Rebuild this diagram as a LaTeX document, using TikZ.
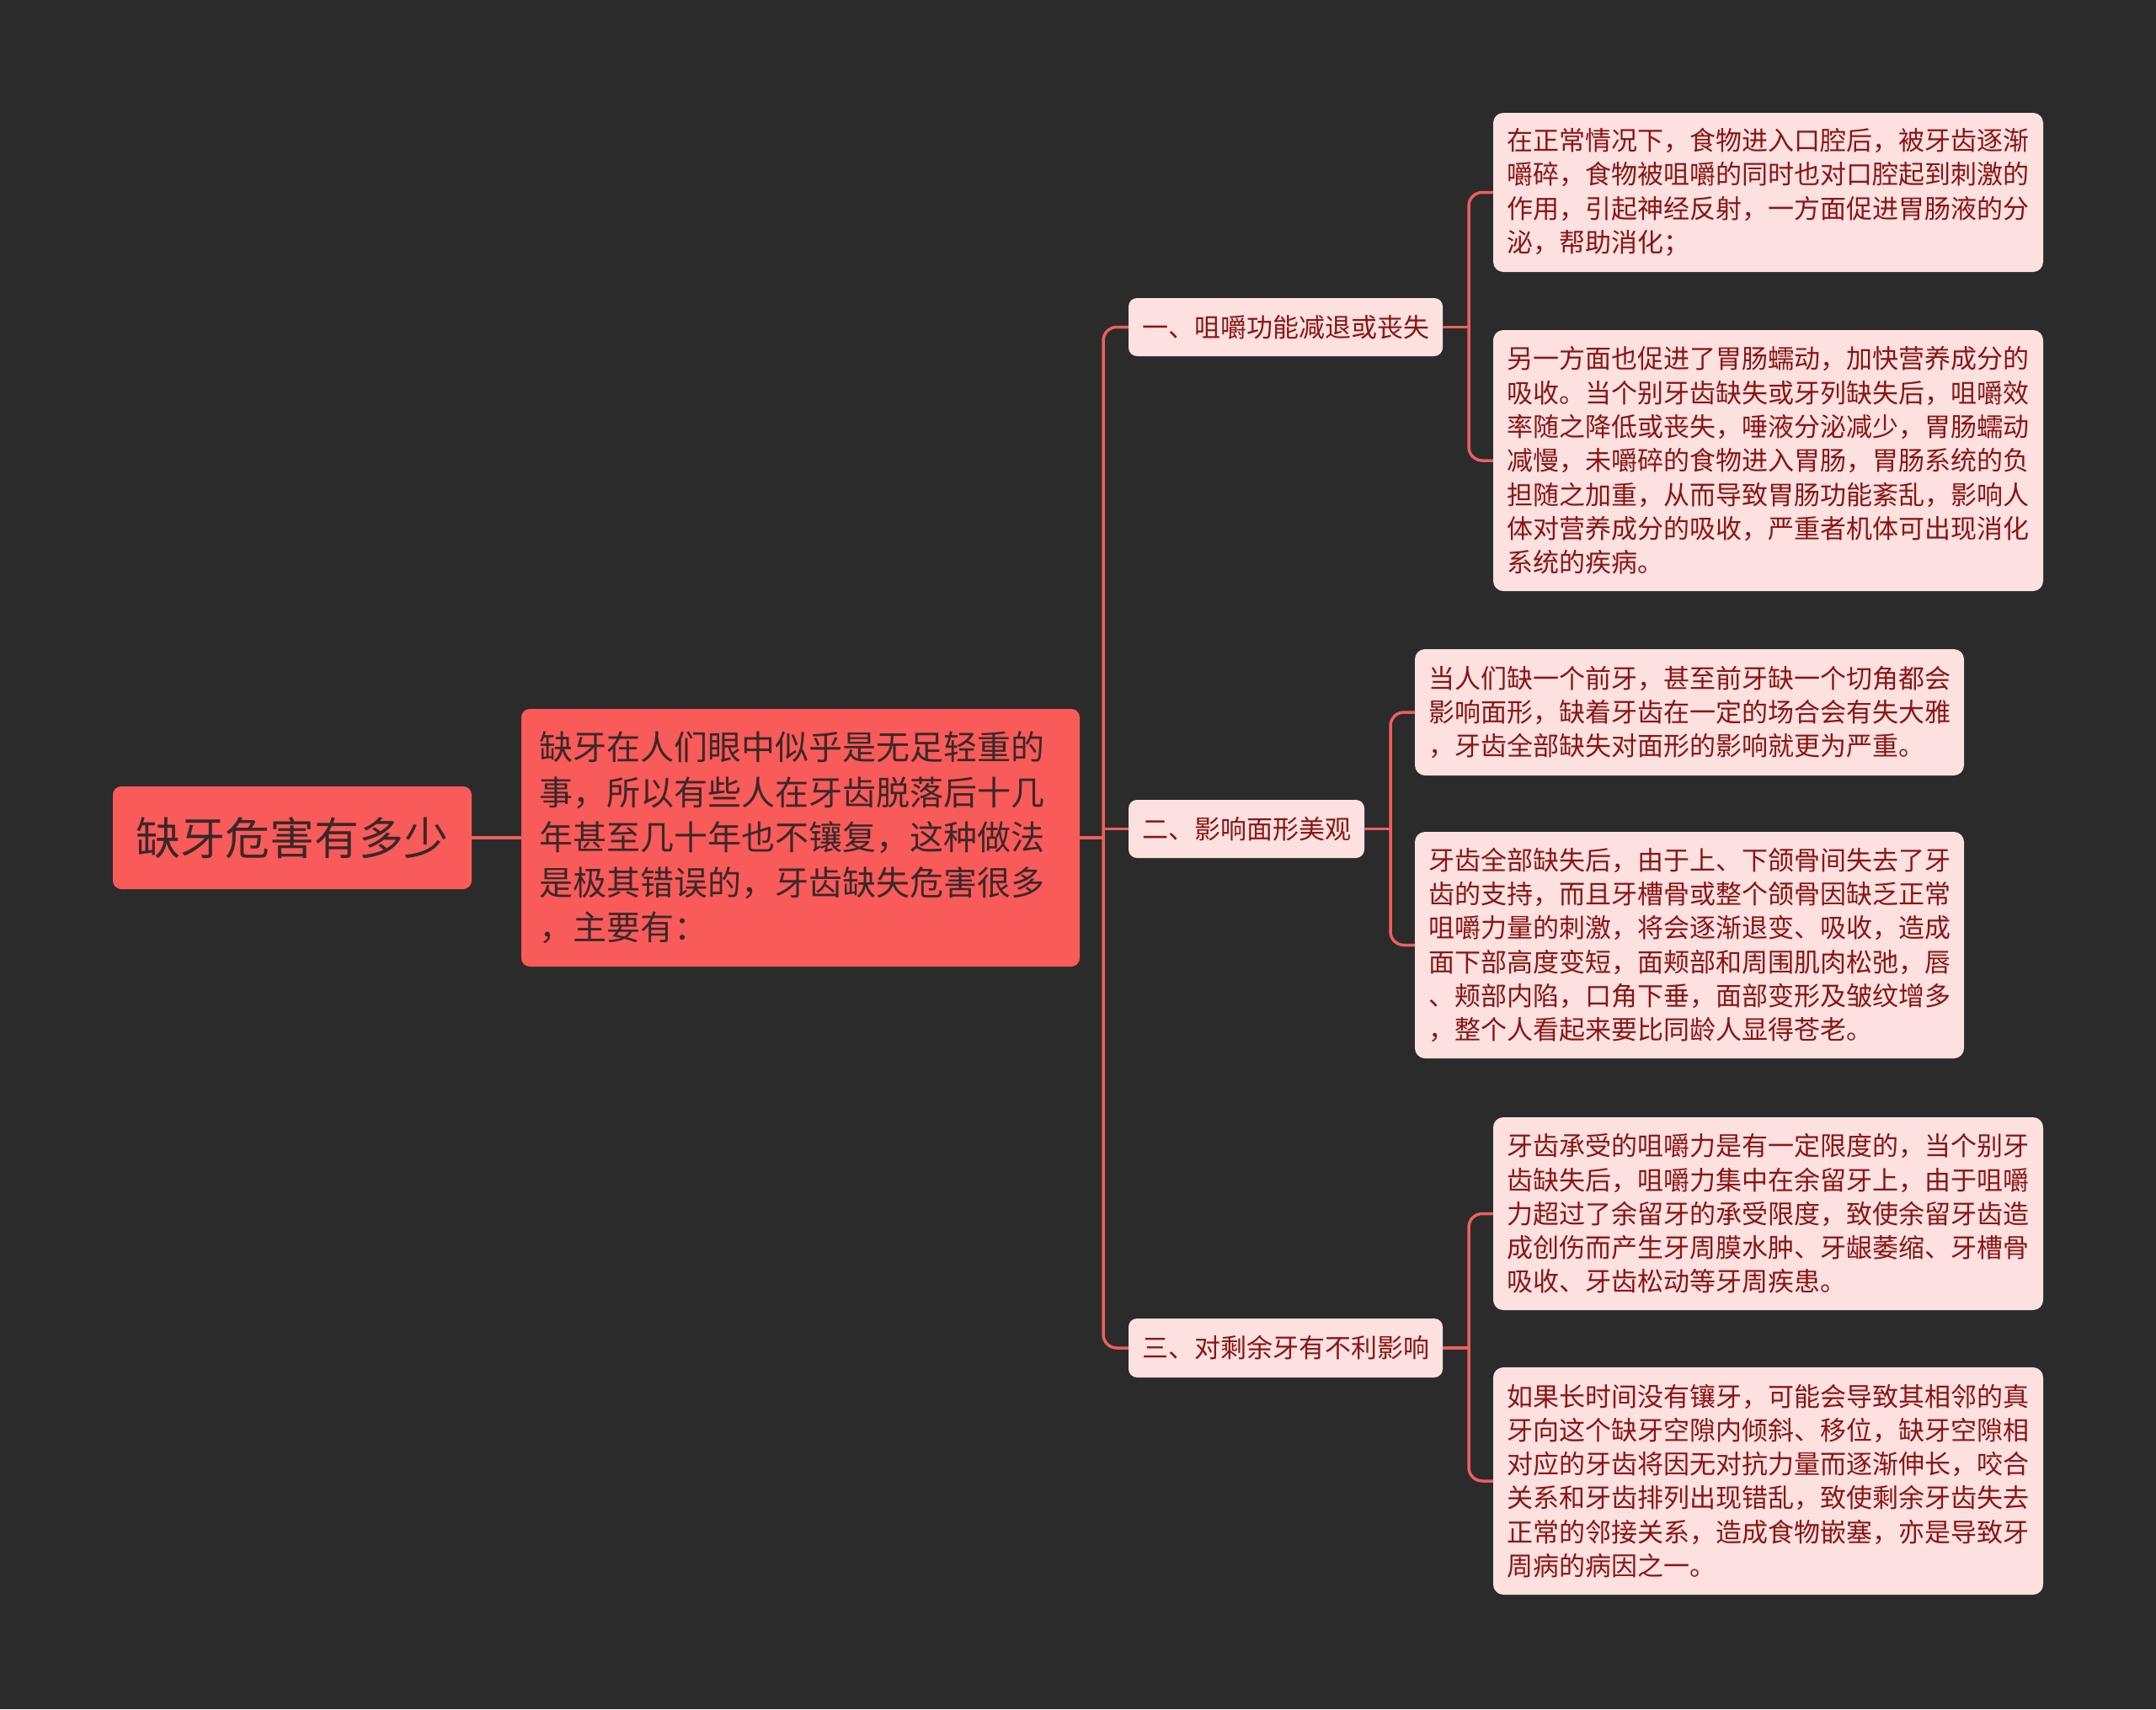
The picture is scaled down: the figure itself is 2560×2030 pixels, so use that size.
\documentclass[tikz,border=0pt]{standalone}
\usepackage{fontspec}
\newfontfamily\cjk{Noto Sans CJK SC}
\definecolor{bgc}{HTML}{2B2B2B}
\definecolor{rootfill}{HTML}{F95A5A}
\definecolor{roottext}{HTML}{3A2828}
\definecolor{leaffill}{HTML}{FDE1E1}
\definecolor{leaftext}{HTML}{8B1515}
\definecolor{linec}{HTML}{EE5E5E}
\tikzset{
  rootbox/.style={rounded corners=10, fill=rootfill, text=roottext, align=center, inner sep=0pt,
    font=\cjk\fontsize{53}{60}\selectfont},
  mainbox/.style={rounded corners=10, fill=rootfill, text=roottext, align=left, inner sep=0pt,
    font=\cjk\fontsize{40}{53.4}\selectfont},
  branchbox/.style={rounded corners=10, fill=leaffill, text=leaftext, align=center, inner sep=0pt,
    font=\cjk\fontsize{31}{38}\selectfont},
  leafbox/.style={rounded corners=12, fill=leaffill, text=leaftext, align=left, inner sep=0pt,
    font=\cjk\fontsize{31}{40.3}\selectfont},
  conn/.style={draw=linec, line width=3.5},
}
\begin{document}
\begin{tikzpicture}[x=1pt,y=-1pt]
\fill[bgc] (0,0) rectangle (2560,2030);
\useasboundingbox (0,0) rectangle (2560,2030);

% nodes
\node[rootbox, minimum width=426, minimum height=122] (root) at (347,995) {缺牙危害有多少};
\node[mainbox, minimum width=663, minimum height=306, text width=620] (main) at (950.5,995)
  {缺牙在人们眼中似乎是无足轻重的\\事，所以有些人在牙齿脱落后十几\\年甚至几十年也不镶复，这种做法\\是极其错误的，牙齿缺失危害很多\\，主要有：};

\node[branchbox, minimum width=373, minimum height=69] (b1) at (1526.5,388.5) {一、咀嚼功能减退或丧失};
\node[branchbox, minimum width=280, minimum height=69] (b2) at (1480,984.5) {二、影响面形美观};
\node[branchbox, minimum width=373, minimum height=70] (b3) at (1526.5,1601) {三、对剩余牙有不利影响};

\node[leafbox, minimum width=653, minimum height=189, text width=621] (l1a) at (2099.5,228.5)
  {在正常情况下，食物进入口腔后，被牙齿逐渐\\嚼碎，食物被咀嚼的同时也对口腔起到刺激的\\作用，引起神经反射，一方面促进胃肠液的分\\泌，帮助消化；};
\node[leafbox, minimum width=653, minimum height=310, text width=621] (l1b) at (2099.5,547)
  {另一方面也促进了胃肠蠕动，加快营养成分的\\吸收。当个别牙齿缺失或牙列缺失后，咀嚼效\\率随之降低或丧失，唾液分泌减少，胃肠蠕动\\减慢，未嚼碎的食物进入胃肠，胃肠系统的负\\担随之加重，从而导致胃肠功能紊乱，影响人\\体对营养成分的吸收，严重者机体可出现消化\\系统的疾病。};
\node[leafbox, minimum width=652, minimum height=150, text width=620] (l2a) at (2006,846)
  {当人们缺一个前牙，甚至前牙缺一个切角都会\\影响面形，缺着牙齿在一定的场合会有失大雅\\，牙齿全部缺失对面形的影响就更为严重。};
\node[leafbox, minimum width=652, minimum height=269, text width=620] (l2b) at (2006,1122.5)
  {牙齿全部缺失后，由于上、下颌骨间失去了牙\\齿的支持，而且牙槽骨或整个颌骨因缺乏正常\\咀嚼力量的刺激，将会逐渐退变、吸收，造成\\面下部高度变短，面颊部和周围肌肉松弛，唇\\、颊部内陷，口角下垂，面部变形及皱纹增多\\，整个人看起来要比同龄人显得苍老。};
\node[leafbox, minimum width=653, minimum height=229, text width=621] (l3a) at (2099.5,1441.5)
  {牙齿承受的咀嚼力是有一定限度的，当个别牙\\齿缺失后，咀嚼力集中在余留牙上，由于咀嚼\\力超过了余留牙的承受限度，致使余留牙齿造\\成创伤而产生牙周膜水肿、牙龈萎缩、牙槽骨\\吸收、牙齿松动等牙周疾患。};
\node[leafbox, minimum width=653, minimum height=270, text width=621] (l3b) at (2099.5,1759)
  {如果长时间没有镶牙，可能会导致其相邻的真\\牙向这个缺牙空隙内倾斜、移位，缺牙空隙相\\对应的牙齿将因无对抗力量而逐渐伸长，咬合\\关系和牙齿排列出现错乱，致使剩余牙齿失去\\正常的邻接关系，造成食物嵌塞，亦是导致牙\\周病的病因之一。};

% junction coordinates
\coordinate (t0) at (1310,995);
\coordinate (t1) at (1744,388.5);
\coordinate (t2) at (1651,984.5);
\coordinate (t3) at (1744,1601);

% connectors
\draw[conn] (root.east) -- (main.west);
\draw[conn] (main.east) -- (t0);
\draw[conn, rounded corners=16] (b1.west) -| (t0) |- (b3.west);
\draw[conn] (t0 |- b2.west) -- (b2.west);

\draw[conn] (b1.east) -- (t1);
\draw[conn, rounded corners=16] (l1a.west) -| (t1) |- (l1b.west);
\draw[conn] (b2.east) -- (t2);
\draw[conn, rounded corners=16] (l2a.west) -| (t2) |- (l2b.west);
\draw[conn] (b3.east) -- (t3);
\draw[conn, rounded corners=16] (l3a.west) -| (t3) |- (l3b.west);
\end{tikzpicture}
\end{document}
